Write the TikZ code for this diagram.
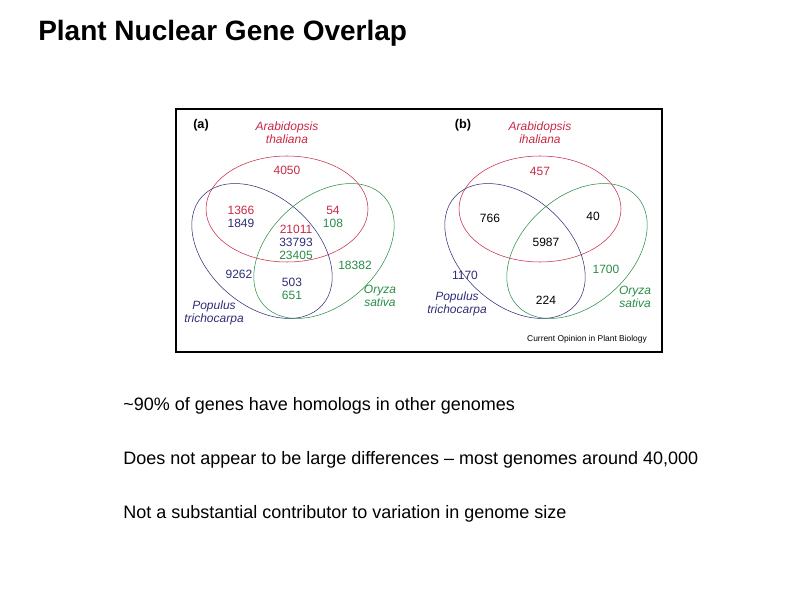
\documentclass[tikz,border=0pt]{standalone}
\usepackage{fontspec}
\setmainfont{Liberation Sans}
\begin{document}
\begin{tikzpicture}[x=0.75pt,y=-0.75pt,
  lab/.style={font=\fontsize{9}{9.8}\selectfont,inner sep=0pt,align=center},
  sp/.style={font=\fontsize{9}{10}\selectfont\itshape,inner sep=0pt,align=center},
  bt/.style={font=\fontsize{13.5}{15}\selectfont,anchor=west,inner sep=0pt}]
\definecolor{rd}{RGB}{200,40,70}
\definecolor{bl}{RGB}{45,45,120}
\definecolor{gn}{RGB}{40,140,70}
\useasboundingbox (0,0) rectangle (794,595);
\node[font=\fontsize{21}{23}\selectfont\bfseries,anchor=west,inner sep=0pt] (title) at (38,33) {Plant Nuclear Gene Overlap};
\draw[line width=1.2pt] (176,109) rectangle (662,352);
\foreach \dx/\p in {0/a,253/b}{
  \begin{scope}[xshift=\dx*0.75pt]
  \draw[rd,thin] (287,209) ellipse [x radius=81, y radius=53];
  \draw[bl,thin,rotate around={-42:(262,251)}] (262,251) ellipse [x radius=81, y radius=54];
  \draw[gn,thin,rotate around={42:(324,251)}] (324,251) ellipse [x radius=81, y radius=54];
  \end{scope}
}
\node[lab,font=\fontsize{9.5}{10}\selectfont\bfseries] (pa) at (201,125) {(a)};
\node[sp,rd] (ata) at (287,133) {Arabidopsis\\thaliana};
\node[lab,rd] (a1) at (287,170) {4050};
\node[lab] (a2) at (241,217) {\color{rd}1366\\\color{bl}1849};
\node[lab] (a3) at (333,217) {\color{rd}54\\\color{gn}108};
\node[lab] (a4) at (296,242) {\color{rd}21011\\\color{bl}33793\\\color{gn}23405};
\node[lab,gn] (a5) at (355,265) {18382};
\node[lab,bl] (a6) at (239,274) {9262};
\node[lab] (a7) at (292,289) {\color{bl}503\\\color{gn}651};
\node[sp,gn] (aos) at (380,296) {Oryza\\sativa};
\node[sp,bl] (apt) at (214,313) {Populus\\trichocarpa};
\node[lab,font=\fontsize{9.5}{10}\selectfont\bfseries] (pb) at (463,125) {(b)};
\node[sp,rd] (bta) at (540,133) {Arabidopsis\\ihaliana};
\node[lab,rd] (b1) at (540,171) {457};
\node[lab] (b2) at (490,218) {766};
\node[lab] (b3) at (593,216) {40};
\node[lab] (b4) at (546,242) {5987};
\node[lab,bl] (b5) at (465,275) {1170};
\node[lab,gn] (b6) at (606,269) {1700};
\node[lab] (b7) at (546,300) {224};
\node[sp,bl] (bpt) at (457,304) {Populus\\trichocarpa};
\node[sp,gn] (bos) at (635,297) {Oryza\\sativa};
\node[lab,font=\fontsize{6.3}{7}\selectfont] (cop) at (587,339) {Current Opinion in Plant Biology};
\node[bt] (t1) at (123,406) {\textasciitilde90\% of genes have homologs in other genomes};
\node[bt] (t2) at (123,460) {Does not appear to be large differences -- most genomes around 40,000};
\node[bt] (t3) at (123,514) {Not a substantial contributor to variation in genome size};
\end{tikzpicture}
\end{document}
